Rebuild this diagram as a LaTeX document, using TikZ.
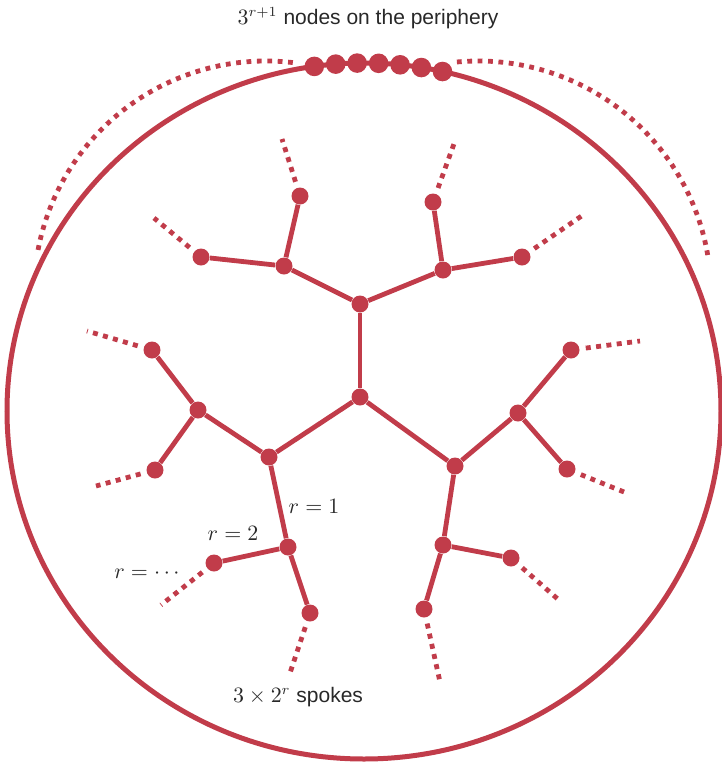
\documentclass[tikz,border=0pt]{standalone}
\usepackage[no-math]{fontspec}
\setmainfont{Liberation Sans}
\definecolor{tree}{RGB}{193,60,74}
\definecolor{ink}{RGB}{40,40,40}

\begin{document}
\begin{tikzpicture}[x=0.5pt,y=-0.5pt,font=\fontsize{10.5pt}{12pt}\selectfont,
	vertex/.style={circle, fill=tree, inner sep=0pt, minimum size=8.5pt},
	branch/.style={draw=tree, line width=2.4pt},
	spoke/.style={draw=tree, line width=2.4pt, dash pattern=on 2.5pt off 2.7pt, shorten <=3pt},
	lbl/.style={text=ink, inner sep=0pt}]
	\useasboundingbox (0,0) rectangle (722,762);

	% Outer border
	\draw[tree, line width=2.5pt] (364,411) ellipse [x radius=357, y radius=348];

	% Dotted arcs beyond the border
	\draw[tree, line width=2.4pt, dash pattern=on 2.4pt off 2.8pt]
		([shift={(266,293)}]-169.3:232) arc[start angle=-169.3, end angle=-82.3, radius=232];
	\draw[tree, line width=2.4pt, dash pattern=on 2.4pt off 2.8pt]
		([shift={(478,294)}]-95.2:233) arc[start angle=-95.2, end angle=-8.9, radius=233];

	% Nodes on the periphery
	\foreach \i in {0,...,6}
		\node[vertex, minimum size=9.8pt] (p\i) at ({364+357*cos(98-3.45*\i)},{411-348*sin(98-3.45*\i)}) {};

	% Centre of the tree
	\node[vertex] (c1) at (360,397) {};
	\node[vertex] (c2) at (360,304) {};
	\node[vertex] (a) at (284,266) {};
	\node[vertex] (b) at (443,270) {};
	\node[vertex] (l) at (269,457) {};
	\node[vertex] (r) at (455,466) {};
	\node[vertex] (ll) at (198,410) {};
	\node[vertex] (rr) at (518,413) {};
	\node[vertex] (ld) at (288,547) {};
	\node[vertex] (rd) at (443,545) {};

	% Leaves
	\node[vertex] (a1) at (300,196) {};
	\node[vertex] (a2) at (201,257) {};
	\node[vertex] (b1) at (433,202) {};
	\node[vertex] (b2) at (522,257) {};
	\node[vertex] (ll1) at (152,350) {};
	\node[vertex] (ll2) at (155,470) {};
	\node[vertex] (rr1) at (571,350) {};
	\node[vertex] (rr2) at (567,469) {};
	\node[vertex] (ld1) at (214,563) {};
	\node[vertex] (ld2) at (310,613) {};
	\node[vertex] (rd1) at (511,558) {};
	\node[vertex] (rd2) at (424,609) {};

	% Branches
	\draw[branch] (c1) -- (c2);
	\draw[branch] (c2) -- (a);
	\draw[branch] (c2) -- (b);
	\draw[branch] (c1) -- (l);
	\draw[branch] (c1) -- (r);
	\draw[branch] (a) -- (a1);
	\draw[branch] (a) -- (a2);
	\draw[branch] (b) -- (b1);
	\draw[branch] (b) -- (b2);
	\draw[branch] (l) -- (ll);
	\draw[branch] (l) -- (ld);
	\draw[branch] (r) -- (rr);
	\draw[branch] (r) -- (rd);
	\draw[branch] (ll) -- (ll1);
	\draw[branch] (ll) -- (ll2);
	\draw[branch] (rr) -- (rr1);
	\draw[branch] (rr) -- (rr2);
	\draw[branch] (ld) -- (ld1);
	\draw[branch] (ld) -- (ld2);
	\draw[branch] (rd) -- (rd1);
	\draw[branch] (rd) -- (rd2);

	% Dotted spokes out of the leaves
	\coordinate (ea1) at (282,139);
	\coordinate (ea2) at (154,218);
	\coordinate (eb1) at (455,141);
	\coordinate (eb2) at (583,215);
	\coordinate (ell1) at (87,331);
	\coordinate (ell2) at (96,486);
	\coordinate (err1) at (640,341);
	\coordinate (err2) at (629,494);
	\coordinate (eld1) at (161,605);
	\coordinate (eld2) at (289,676);
	\coordinate (erd1) at (560,601);
	\coordinate (erd2) at (440,682);
	\foreach \n in {a1,a2,b1,b2,ll1,ll2,rr1,rr2,ld1,ld2,rd1,rd2}
		\draw[spoke] (\n) -- (e\n);

	% Labels
	\node[lbl] (top) at (368,18) {$3^{r+1}$ nodes on the periphery};
	\node[lbl] (r1) at (314,506) {$r=1$};
	\node[lbl] (r2) at (233,533) {$r=2$};
	\node[lbl] (rn) at (147,574) {$r=\cdots$};
	\node[lbl] (sp) at (298,697) {$3\times2^r$ spokes};
\end{tikzpicture}
\end{document}
